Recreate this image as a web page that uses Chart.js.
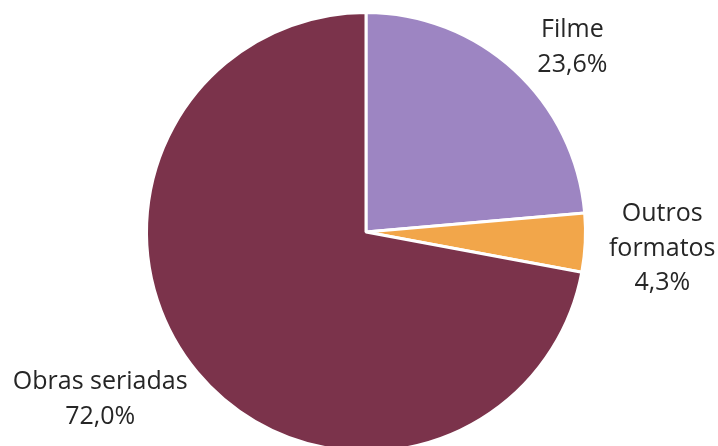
<!DOCTYPE html>
<html>
<head>
<meta charset="utf-8">
<script src="https://cdn.jsdelivr.net/npm/chart.js@4/dist/chart.umd.min.js"></script>
<style>
  html, body { margin: 0; padding: 0; background: #fff; overflow: hidden; }
  #wrap { position: absolute; left: 0; top: 0; width: 718px; height: 464px; }
</style>
</head>
<body>
<div id="wrap"><canvas id="chart" width="718" height="464"></canvas></div>
<script>
const categories = ["Filme", "Outros formatos", "Obras seriadas"];
const labelLines = [["Filme"], ["Outros", "formatos"], ["Obras seriadas"]];
const shares = [23.6, 4.3, 72.0];
const colors = ["#9d85c2", "#f2a64a", "#7b334b"];

// where each label block sits relative to its slice edge
const labelOffsets = [[58, -23], [77, 6], [-97, 27]];

const outsideLabels = {
    id: "outsideLabels",
    afterDatasetsDraw(chart) {
        let ctx = chart.ctx;
        let meta = chart.getDatasetMeta(0);
        ctx.save();
        ctx.font = "25px 'Open Sans', 'Noto Sans', sans-serif";
        ctx.fillStyle = "#262626";
        ctx.textAlign = "center";
        ctx.textBaseline = "middle";
        meta.data.forEach((arc, i) => {
            let mid = (arc.startAngle + arc.endAngle) / 2;
            let ex = arc.x + Math.cos(mid) * arc.outerRadius;
            let ey = arc.y + Math.sin(mid) * arc.outerRadius;
            let lines = labelLines[i].concat([shares[i].toFixed(1).replace(".", ",") + "%"]);
            let lh = 34.5;
            let cx = ex + labelOffsets[i][0];
            let cy = ey + labelOffsets[i][1] - (lines.length - 1) * lh / 2;
            lines.forEach((t, k) => ctx.fillText(t, cx, cy + k * lh));
        });
        ctx.restore();
    }
};

new Chart(document.getElementById("chart"), {
    type: "pie",
    data: {
        labels: categories,
        datasets: [{
            data: shares,
            backgroundColor: colors,
            borderColor: "#ffffff",
            borderWidth: 3
        }]
    },
    options: {
        responsive: false,
        animation: false,
        layout: { padding: { top: 11, bottom: 11, left: 14, right: 0 } },
        plugins: {
            legend: { display: false },
            tooltip: { enabled: false }
        }
    },
    plugins: [outsideLabels]
});
</script>
</body>
</html>
